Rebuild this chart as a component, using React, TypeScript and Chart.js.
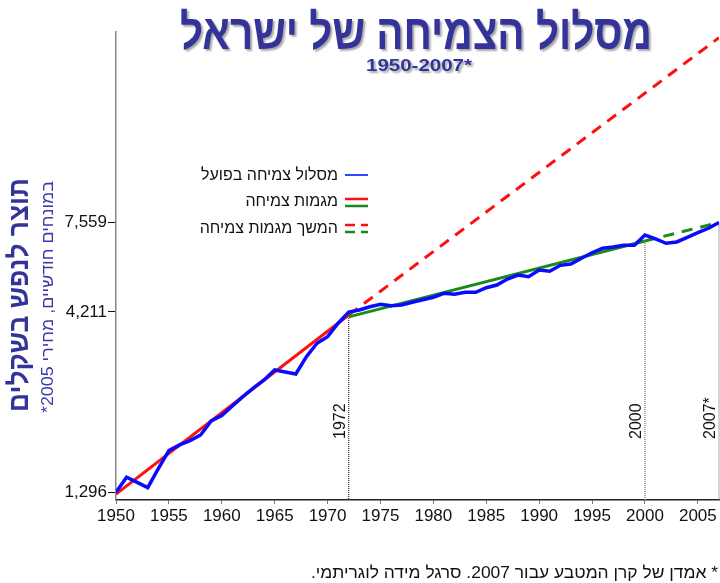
import React, { useEffect, useRef } from "react";
import { Chart, registerables } from "chart.js";

Chart.register(...registerables);

// ---------- data ----------
const years = [
  1950, 1951, 1952, 1953, 1954, 1955, 1956, 1957, 1958, 1959,
  1960, 1961, 1962, 1963, 1964, 1965, 1966, 1967, 1968, 1969,
  1970, 1971, 1972, 1973, 1974, 1975, 1976, 1977, 1978, 1979,
  1980, 1981, 1982, 1983, 1984, 1985, 1986, 1987, 1988, 1989,
  1990, 1991, 1992, 1993, 1994, 1995, 1996, 1997, 1998, 1999,
  2000, 2001, 2002, 2003, 2004, 2005, 2006, 2007,
];
const actualValues = [
  1296, 1430, 1382, 1336, 1512, 1701, 1766, 1816, 1885, 2065,
  2141, 2278, 2421, 2563, 2701, 2882, 2845, 2808, 3144, 3432,
  3584, 3912, 4211, 4266, 4359, 4428, 4388, 4408, 4486, 4563,
  4635, 4758, 4727, 4789, 4789, 4936, 5023, 5224, 5362, 5303,
  5540, 5494, 5713, 5762, 5981, 6204, 6386, 6440, 6512, 6512,
  6966, 6787, 6600, 6656, 6862, 7072, 7278, 7559,
];
const earlyTrendYears = [1950, 1972];
const earlyTrendValues = [1280, 4130];
const earlyProjYears = [1972, 2007];
const earlyProjValues = [4130, 25300];
const lateTrendYears = [1972, 2000];
const lateTrendValues = [4078, 6699];
const lateProjYears = [2000, 2007];
const lateProjValues = [6699, 7559];
const markerYears = [1972, 2000, 2007];
const markerValues = [4211, 6699, 7559];
const markerLabels = ["1972", "2000", "2007*"];
const xTickValues = [1950, 1955, 1960, 1965, 1970, 1975, 1980, 1985, 1990, 1995, 2000, 2005];
const yTickValues = [1296, 4211, 7559];
const xAxisMin = 1950;
const xAxisMax = 2007;
const yAxisMin = 1232;
const yAxisMax = 26260;

const titleText = "מסלול הצמיחה של ישראל";
const subtitleText = "1950-2007*";
const yTitleText = "תוצר לנפש בשקלים";
const ySubtitleText = "במונחים חודשיים, מחירי 2005*";
const legendLabels = ["מסלול צמיחה בפועל", "מגמות צמיחה", "המשך מגמות צמיחה"];
const footnoteText = "* אמדן של קרן המטבע עבור 2007. סרגל מידה לוגריתמי.";

// ---------- styles ----------
const BLUE = "#0a0aff";
const RED = "#ff1010";
const GREEN = "#1a8a1a";
const NAVY = "#333399";
const HEB = "'Liberation Sans', 'DejaVu Sans', sans-serif";
const NARROW = "'Liberation Sans Narrow', 'Liberation Sans', sans-serif";

const pts = (xs: number[], ys: number[]) => xs.map((x, i) => ({ x, y: ys[i] }));

type TextOpts = {
  font: string;
  color: string;
  align?: CanvasTextAlign;
  baseline?: CanvasTextBaseline;
  width?: number;
  rotate?: boolean;
  shadow?: boolean;
  dir?: "rtl" | "ltr";
};

function drawText(ctx: CanvasRenderingContext2D, text: string, x: number, y: number, o: TextOpts) {
  ctx.save();
  ctx.font = o.font;
  (ctx as any).direction = o.dir || "rtl";
  ctx.fillStyle = o.color;
  ctx.textAlign = o.align || "center";
  ctx.textBaseline = o.baseline || "alphabetic";
  ctx.translate(x, y);
  if (o.rotate) ctx.rotate(-Math.PI / 2);
  if (o.width) {
    const w = ctx.measureText(text).width;
    if (w > 0) ctx.scale(o.width / w, 1);
  }
  if (o.shadow) {
    ctx.shadowColor = "rgba(0,0,0,0.35)";
    ctx.shadowOffsetX = 2;
    ctx.shadowOffsetY = 2;
    ctx.shadowBlur = 2;
  }
  ctx.fillText(text, 0, 0);
  ctx.restore();
}

const overlayPlugin = {
  id: "overlay",
  afterDraw(chart: any) {
    const ctx: CanvasRenderingContext2D = chart.ctx;
    const xs = chart.scales.x;
    const area = chart.chartArea;

    // title + subtitle
    drawText(ctx, titleText, 416, 49, { font: `bold 49px ${HEB}`, color: NAVY, width: 472, shadow: true });
    drawText(ctx, subtitleText, 419, 71, { font: `bold 17px ${HEB}`, color: NAVY, width: 106, shadow: true, dir: "ltr" });

    // y-axis titles
    drawText(ctx, yTitleText, 28, 295, { font: `bold 28px ${HEB}`, color: NAVY, width: 234, rotate: true });
    drawText(ctx, ySubtitleText, 53, 297, { font: `16px ${HEB}`, color: "#3a3aaa", width: 232, rotate: true });

    // marker labels
    markerYears.forEach((yr, i) => {
      const px = xs.getPixelForValue(yr);
      drawText(ctx, markerLabels[i], px - 8, area.bottom - 61, {
        font: `16px ${NARROW}`,
        color: "#111",
        align: "left",
        baseline: "middle",
        rotate: true,
        dir: "ltr",
      });
    });

    // legend
    const lx = 345, lw = 23, tx = 338;
    const rows = [176, 202, 229];
    legendLabels.forEach((lab, i) => {
      drawText(ctx, lab, tx, rows[i], { font: `16px ${HEB}`, color: "#111", align: "right", baseline: "middle" });
    });
    ctx.save();
    ctx.lineWidth = 2;
    ctx.strokeStyle = "#3344ff";
    ctx.beginPath(); ctx.moveTo(lx, rows[0] - 1); ctx.lineTo(lx + lw, rows[0] - 1); ctx.stroke();
    ctx.lineWidth = 2.5;
    ctx.strokeStyle = RED;
    ctx.beginPath(); ctx.moveTo(lx, rows[1] - 3); ctx.lineTo(lx + lw, rows[1] - 3); ctx.stroke();
    ctx.strokeStyle = GREEN;
    ctx.beginPath(); ctx.moveTo(lx, rows[1] + 4); ctx.lineTo(lx + lw, rows[1] + 4); ctx.stroke();
    ctx.setLineDash([10, 6]);
    ctx.strokeStyle = RED;
    ctx.beginPath(); ctx.moveTo(lx, rows[2] - 4); ctx.lineTo(lx + lw, rows[2] - 4); ctx.stroke();
    ctx.strokeStyle = GREEN;
    ctx.beginPath(); ctx.moveTo(lx, rows[2] + 3); ctx.lineTo(lx + lw, rows[2] + 3); ctx.stroke();
    ctx.restore();

    // footnote
    drawText(ctx, footnoteText, 718, 578, { font: `17px ${HEB}`, color: "#111", align: "right", width: 407 });
  },
};

export default function App() {
  const ref = useRef<HTMLCanvasElement | null>(null);

  useEffect(() => {
    if (!ref.current) return;
    const markerSets = markerYears.map((yr, i) => ({
      data: [{ x: yr, y: markerValues[i] }, { x: yr, y: yAxisMin }],
      borderColor: i === 0 ? "#000" : "#8a8a8a",
      borderWidth: i === 0 ? 1 : 1.5,
      borderDash: [1, 1],
      pointRadius: 0,
      clip: false as any,
    }));
    const chart = new Chart(ref.current, {
      type: "line",
      data: {
        datasets: [
          { data: pts(years, actualValues), borderColor: BLUE, borderWidth: 3.5, pointRadius: 0 },
          { data: pts(lateTrendYears, lateTrendValues), borderColor: GREEN, borderWidth: 3, pointRadius: 0 },
          { data: pts(lateProjYears, lateProjValues), borderColor: GREEN, borderWidth: 3, borderDash: [11, 8], pointRadius: 0 },
          { data: pts(earlyTrendYears, earlyTrendValues), borderColor: RED, borderWidth: 3, pointRadius: 0 },
          { data: pts(earlyProjYears, earlyProjValues), borderColor: RED, borderWidth: 3, borderDash: [11, 8], pointRadius: 0 },
          ...markerSets,
        ] as any,
      },
      options: {
        animation: false,
        responsive: false,
        layout: { padding: { top: 32, right: 1, left: 0, bottom: 0 } },
        plugins: { legend: { display: false }, tooltip: { enabled: false }, title: { display: false } },
        elements: { line: { tension: 0 } },
        scales: {
          x: {
            type: "linear",
            min: xAxisMin,
            max: xAxisMax,
            afterBuildTicks: (s: any) => { s.ticks = xTickValues.map((v) => ({ value: v })); },
            afterFit: (s: any) => { s.height = 83; },
            ticks: {
              color: "#111",
              padding: 2,
              maxRotation: 0,
              autoSkip: false,
              font: { family: NARROW, size: 17 },
              callback: (v: any) => String(v),
            },
            grid: { display: true, drawOnChartArea: false, drawTicks: true, tickLength: 4, color: "#777" },
            border: { display: true, color: "#222", width: 1.5 },
          },
          y: {
            type: "logarithmic",
            min: yAxisMin,
            max: yAxisMax,
            afterBuildTicks: (s: any) => { s.ticks = yTickValues.map((v) => ({ value: v })); },
            afterFit: (s: any) => { s.width = 116; },
            ticks: {
              color: "#111",
              padding: 1,
              autoSkip: false,
              font: { family: NARROW, size: 17 },
              callback: (v: any) => Number(v).toLocaleString("en-US"),
            },
            grid: { display: true, drawOnChartArea: false, drawTicks: true, tickLength: 8, color: "#111" },
            border: { display: true, color: "#888", width: 1.5 },
          },
        },
      } as any,
      plugins: [overlayPlugin],
    });
    return () => chart.destroy();
  }, []);

  return (
    <div style={{ position: "fixed", left: 0, top: 0, width: 720, height: 583, background: "#fff" }}>
      <canvas ref={ref} width={720} height={583} style={{ display: "block" }} />
    </div>
  );
}
